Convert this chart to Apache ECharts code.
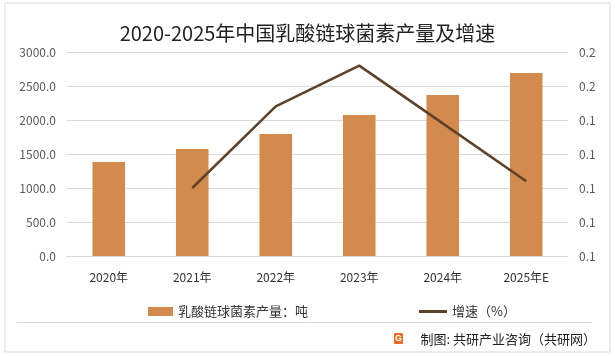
<!DOCTYPE html>
<html><head><meta charset="utf-8">
<script src="https://cdn.jsdelivr.net/npm/echarts@6/dist/echarts.min.js"></script>
<style>html,body{margin:0;padding:0;background:#fff}#c{width:615px;height:356px}</style>
</head><body><div id="c"></div>
<script>
const title = '2020-2025年中国乳酸链球菌素产量及增速';
const categories = ['2020年','2021年','2022年','2023年','2024年','2025年E'];
const output = [1382, 1574, 1794, 2074, 2368, 2691];
const growth = [null, 0.100, 0.148, 0.172, 0.138, 0.104];
const barName = '乳酸链球菌素产量：吨';
const lineName = '增速（%）';
const source = '制图: 共研产业咨询（共研网）';
const font = '"Noto Sans CJK SC", "Noto Sans", sans-serif';

const chart = echarts.init(document.getElementById('c'), null, {renderer:'canvas'});
chart.setOption({
  backgroundColor:'#fff',
  animation:false,
  textStyle:{fontFamily:font},
  title:{text:title,left:'center',top:18,textStyle:{fontSize:20,fontWeight:'normal',color:'#222',fontFamily:font}},
  grid:{left:67,right:47,top:52,bottom:100,containLabel:false},
  legend:[
    {data:[barName],left:143,top:300,itemWidth:25,itemHeight:9,itemGap:4,icon:'rect',
     textStyle:{fontSize:13,color:'#333',fontFamily:font}},
    {data:[lineName],left:414,top:300,itemWidth:28,itemHeight:3,icon:'rect',
     textStyle:{fontSize:13,color:'#333',fontFamily:font}}
  ],
  xAxis:{type:'category',data:categories,
    axisLine:{show:true,lineStyle:{color:'#d9d9d9'}},axisTick:{show:false},
    axisLabel:{fontSize:12,color:'#333',margin:15}},
  yAxis:[
    {type:'value',min:0,max:3000,interval:500,
     axisLabel:{fontSize:12,color:'#595959',margin:11,formatter:v=>v.toFixed(1)},
     splitLine:{lineStyle:{color:'#d9d9d9'}},axisLine:{show:false},axisTick:{show:false}},
    {type:'value',min:0.06,max:0.18,interval:0.02,
     axisLabel:{fontSize:12,color:'#595959',margin:11,formatter:v=>v.toFixed(1)},
     splitLine:{show:false},axisLine:{show:false},axisTick:{show:false}}
  ],
  series:[
    {name:barName,type:'bar',data:output,barWidth:'39%',itemStyle:{color:'#D38B4D'}},
    {name:lineName,type:'line',yAxisIndex:1,data:growth,symbol:'none',
     lineStyle:{color:'#5E4129',width:2.5},itemStyle:{color:'#5E4129'}}
  ],
  graphic:[
    {type:'rect',shape:{x:5,y:3,width:605,height:349},style:{fill:null,stroke:'#d9d9d9',lineWidth:1},silent:true},
    {type:'line',shape:{x1:17,y1:322.5,x2:592,y2:322.5},style:{stroke:'#d9d9d9',lineWidth:1},silent:true},
    {type:'rect',shape:{x:394,y:333,width:9,height:11,r:1},style:{fill:'#F06A2A'},silent:true},
    {type:'text',x:398.5,y:338.5,style:{text:'G',fill:'#fff',font:'bold 9px sans-serif',align:'center',verticalAlign:'middle'},silent:true},
    {type:'text',x:596,y:339,style:{text:source,fill:'#222',font:'13px '+font,align:'right',verticalAlign:'middle'},silent:true}
  ]
});
</script></body></html>
